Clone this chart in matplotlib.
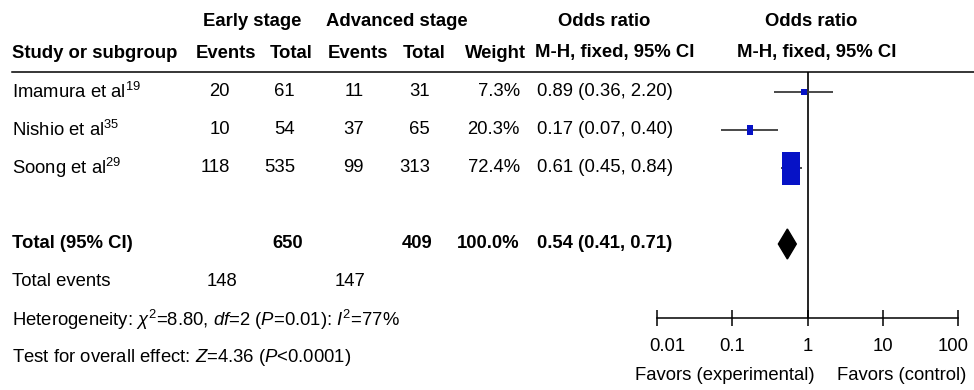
import numpy as np
import matplotlib
matplotlib.use('Agg')
from matplotlib import pyplot as plt
from matplotlib.patches import Rectangle, Polygon
from matplotlib.transforms import ScaledTranslation

plt.rcParams['font.family'] = ['Liberation Sans', 'DejaVu Sans']
plt.rcParams['mathtext.fontset'] = 'custom'
plt.rcParams['mathtext.rm'] = 'Liberation Sans'
plt.rcParams['mathtext.it'] = 'Liberation Sans:italic'
plt.rcParams['mathtext.bf'] = 'Liberation Sans:bold'

# data
studies = ['Imamura et al', 'Nishio et al', 'Soong et al']
refs = ['19', '35', '29']
early_events = [20, 10, 118]
early_total = [61, 54, 535]
adv_events = [11, 37, 99]
adv_total = [31, 65, 313]
weights = [7.3, 20.3, 72.4]
odds = [0.89, 0.17, 0.61]
ci_low = [0.36, 0.07, 0.45]
ci_high = [2.20, 0.40, 0.84]
total_or = 0.54
total_low = 0.41
total_high = 0.71
tick_vals = [0.01, 0.1, 1, 10, 100]
tick_labels = ['0.01', '0.1', '1', '10', '100']

FS = 13.3
BLUE = '#0612C6'

fig = plt.figure(figsize=(9.74, 3.9), dpi=100)

# background axes in pixel units for the table text
tab = fig.add_axes([0, 0, 1, 1])
tab.set_xlim(0, 974)
tab.set_ylim(390, 0)
tab.axis('off')

def row_y(i):
    return 92 + 38 * i

# headers
hy1, hy2 = 21, 53
tab.text(252, hy1, 'Early stage', ha='center', va='center', fontsize=FS, fontweight='bold')
tab.text(397, hy1, 'Advanced stage', ha='center', va='center', fontsize=FS, fontweight='bold')
tab.text(604, hy1, 'Odds ratio', ha='center', va='center', fontsize=FS, fontweight='bold')
tab.text(811, hy1, 'Odds ratio', ha='center', va='center', fontsize=FS, fontweight='bold')
tab.text(12, hy2, 'Study or subgroup', ha='left', va='center', fontsize=FS, fontweight='bold')
tab.text(226, hy2, 'Events', ha='center', va='center', fontsize=FS, fontweight='bold')
tab.text(291, hy2, 'Total', ha='center', va='center', fontsize=FS, fontweight='bold')
tab.text(358, hy2, 'Events', ha='center', va='center', fontsize=FS, fontweight='bold')
tab.text(424, hy2, 'Total', ha='center', va='center', fontsize=FS, fontweight='bold')
tab.text(526, hy2, 'Weight', ha='right', va='center', fontsize=FS, fontweight='bold')
tab.text(615, hy2, 'M-H, fixed, 95% CI', ha='center', va='center', fontsize=FS, fontweight='bold')
tab.text(817, hy2, 'M-H, fixed, 95% CI', ha='center', va='center', fontsize=FS, fontweight='bold')
tab.plot([12, 974], [72, 72], color='black', lw=1.1)

# study rows
for i in range(len(studies)):
    y = row_y(i)
    tab.text(12, y, studies[i] + '$^{' + refs[i] + '}$', ha='left', va='center', fontsize=FS)
    tab.text(230, y, str(early_events[i]), ha='right', va='center', fontsize=FS)
    tab.text(295, y, str(early_total[i]), ha='right', va='center', fontsize=FS)
    tab.text(364, y, str(adv_events[i]), ha='right', va='center', fontsize=FS)
    tab.text(430, y, str(adv_total[i]), ha='right', va='center', fontsize=FS)
    tab.text(520, y, '%.1f%%' % weights[i], ha='right', va='center', fontsize=FS)
    tab.text(537, y, '%.2f (%.2f, %.2f)' % (odds[i], ci_low[i], ci_high[i]),
             ha='left', va='center', fontsize=FS)

# total row
y = row_y(4)
tab.text(12, y, 'Total (95% CI)', ha='left', va='center', fontsize=FS, fontweight='bold')
tab.text(303, y, str(sum(early_total)), ha='right', va='center', fontsize=FS, fontweight='bold')
tab.text(433, y, str(sum(adv_total)), ha='right', va='center', fontsize=FS, fontweight='bold')
tab.text(520, y, '%.1f%%' % sum(weights), ha='right', va='center', fontsize=FS, fontweight='bold')
tab.text(537, y, '%.2f (%.2f, %.2f)' % (total_or, total_low, total_high),
         ha='left', va='center', fontsize=FS, fontweight='bold')

y = row_y(5)
tab.text(12, y, 'Total events', ha='left', va='center', fontsize=FS)
tab.text(237, y, str(sum(early_events)), ha='right', va='center', fontsize=FS)
tab.text(365, y, str(sum(adv_events)), ha='right', va='center', fontsize=FS)
tab.text(12, row_y(6), r'Heterogeneity: $\chi^2$=8.80, $df$=2 ($P$=0.01): $I^2$=77%',
         ha='left', va='center', fontsize=FS)
tab.text(12, row_y(7), r'Test for overall effect: $Z$=4.36 ($P$<0.0001)',
         ha='left', va='center', fontsize=FS)

tab.text(725, 376, 'Favors (experimental)', ha='center', va='center', fontsize=FS)
tab.text(902, 376, 'Favors (control)', ha='center', va='center', fontsize=FS)

# forest axes
ax = fig.add_axes([657 / 974, (390 - 318) / 390, 301 / 974, (318 - 72) / 390])
ax.set_xscale('log')
ax.set_xlim(0.01, 100)
ax.set_ylim((318 - 92) / 38, (72 - 92) / 38)
ax.patch.set_alpha(0)
for s in ['top', 'left', 'right']:
    ax.spines[s].set_visible(False)
ax.spines['bottom'].set_linewidth(1.1)
ax.set_yticks([])
ax.set_xticks(tick_vals)
ax.set_xticklabels(tick_labels)
ax.minorticks_off()
ax.tick_params(axis='x', direction='inout', length=11, width=1.1, pad=9, labelsize=FS)
ax.axvline(1, color='black', lw=1.2)

# nudge the outer tick labels inwards like the original
offsets = [10, 0, 0, 0, -5]
for lab, dx in zip(ax.get_xticklabels(), offsets):
    lab.set_transform(lab.get_transform() + ScaledTranslation(dx / 100, 0, fig.dpi_scale_trans))

px_per_dec = 301 / 4.0
for i in range(len(studies)):
    ax.plot([ci_low[i], ci_high[i]], [i, i], color='#3a3a3a', lw=1.3, solid_capstyle='butt')
    h_px = 2 + 31 * weights[i] / 72.4
    w_px = max(6, 0.545 * h_px)
    h = h_px / 38
    w = w_px / px_per_dec
    lx = np.log10(odds[i])
    ax.add_patch(Rectangle((10 ** (lx - w / 2), i - h / 2), 10 ** (lx + w / 2) - 10 ** (lx - w / 2), h,
                           facecolor=BLUE, edgecolor='none', zorder=3))

dh = 15 / 38
ax.add_patch(Polygon([[total_low, 4], [total_or, 4 - dh], [total_high, 4], [total_or, 4 + dh]],
                     closed=True, facecolor='black', edgecolor='black', zorder=3))

fig.savefig('out.png', dpi=100)
